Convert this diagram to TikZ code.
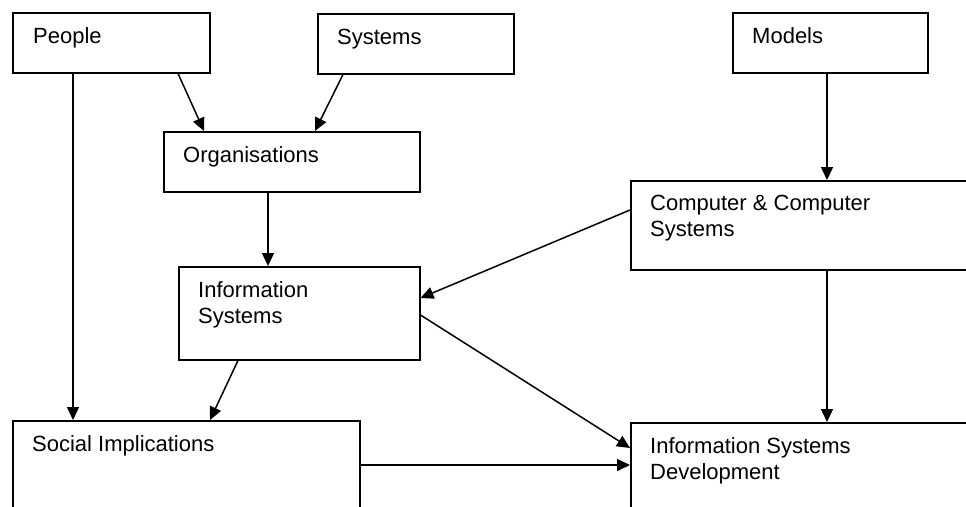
\documentclass[tikz,border=0pt]{standalone}
\usepackage{fontspec}
\setmainfont{Liberation Sans}
\usetikzlibrary{arrows.meta}
\tikzset{
  box/.style={draw, line width=1.5pt, rectangle, inner sep=0pt, anchor=north west},
  txt/.style={anchor=base west, inner sep=0pt, font=\fontsize{22}{26}\selectfont},
  conn/.style={line width=1.5pt, -{Triangle[length=13pt,width=12pt]}}
}
\begin{document}
\begin{tikzpicture}[x=1pt,y=-1pt]
\useasboundingbox (0,0) rectangle (966,506);
\fill[white] (0,0) rectangle (966,506);
\clip (0,0) rectangle (966,506);
% boxes
\node[box, minimum width=197pt, minimum height=60pt] (people) at (12,12) {};
\node[box, minimum width=196pt, minimum height=60pt] (systems) at (317,13) {};
\node[box, minimum width=195pt, minimum height=60pt] (models) at (732,12) {};
\node[box, minimum width=256pt, minimum height=60pt] (org) at (163,131) {};
\node[box, minimum width=241pt, minimum height=93pt] (is) at (178,266) {};
\node[box, minimum width=400pt, minimum height=89pt] (comp) at (630,180) {};
\node[box, minimum width=347pt, minimum height=150pt] (social) at (12,420) {};
\node[box, minimum width=400pt, minimum height=150pt] (isd) at (630,422) {};
% texts
\node[txt] (people-t) at ([xshift=21pt,yshift=-31pt]people.north west) {People};
\node[txt] (systems-t) at ([xshift=20pt,yshift=-31pt]systems.north west) {Systems};
\node[txt] (models-t) at ([xshift=20pt,yshift=-31pt]models.north west) {Models};
\node[txt] (org-t) at ([xshift=20pt,yshift=-31pt]org.north west) {Organisations};
\node[txt] (is-t) at ([xshift=20pt,yshift=-31pt]is.north west) {\parbox[t]{200pt}{Information\\Systems}};
\node[txt] (comp-t) at ([xshift=20pt,yshift=-30pt]comp.north west) {\parbox[t]{300pt}{Computer \& Computer\\Systems}};
\node[txt] (social-t) at ([xshift=20pt,yshift=-31pt]social.north west) {Social Implications};
\node[txt] (isd-t) at ([xshift=20pt,yshift=-31pt]isd.north west) {\parbox[t]{300pt}{Information Systems\\Development}};
% connectors
\draw[conn] ([xshift=166pt]people.south west) -- ([xshift=41pt]org.north west);
\draw[conn] ([xshift=26pt]systems.south west) -- ([xshift=152pt]org.north west);
\draw[conn] ([xshift=61pt]people.south west) -- ([xshift=61pt]social.north west);
\draw[conn] ([xshift=105pt]org.south west) -- ([xshift=90pt]is.north west);
\draw[conn] ([xshift=95pt]models.south west) -- ([xshift=197pt]comp.north west);
\draw[conn] ([yshift=-30pt]comp.north west) -- ([yshift=-32pt]is.north east);
\draw[conn] ([yshift=-49pt]is.north east) -- ([yshift=-26pt]isd.north west);
\draw[conn] ([yshift=-45pt]social.north east) -- ([yshift=-43pt]isd.north west);
\draw[conn] ([xshift=60pt]is.south west) -- ([xshift=198pt]social.north west);
\draw[conn] ([xshift=197pt]comp.south west) -- ([xshift=197pt]isd.north west);
\end{tikzpicture}
\end{document}
